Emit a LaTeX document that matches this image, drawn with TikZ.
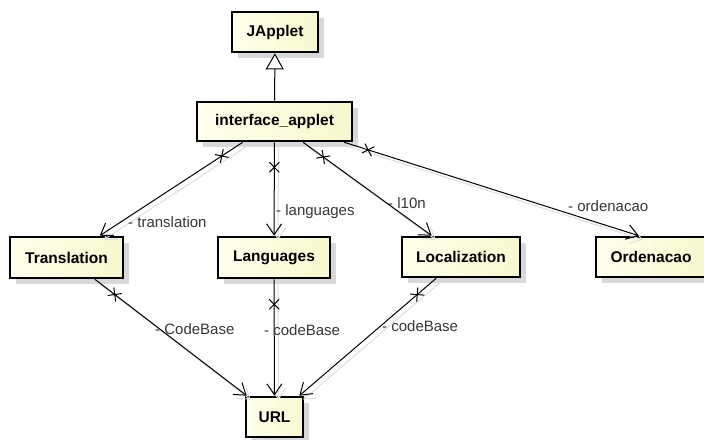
\documentclass[tikz,border=0pt]{standalone}
\usepackage{fontspec}
\setmainfont{Liberation Sans}
\usetikzlibrary{arrows.meta,shadows,decorations.markings}
\definecolor{boxlight}{RGB}{255,255,236}
\definecolor{boxdark}{RGB}{248,248,206}
\definecolor{shadowgray}{RGB}{216,216,216}
\definecolor{ghostgray}{RGB}{222,222,222}
\definecolor{labelgray}{RGB}{55,55,55}
\tikzset{
  cls/.style={draw=black, line width=2.6pt, left color=boxlight, right color=boxdark, inner sep=0pt,
    font=\fontsize{15.5}{18}\selectfont\bfseries,
    drop shadow={shadow xshift=6pt, shadow yshift=-6pt, fill=shadowgray, opacity=1}},
  lbl/.style={font=\fontsize{15}{18}\selectfont, text=labelgray, anchor=west, inner sep=0pt},
  tipV/.style={-{Straight Barb[length=11pt,width=15pt]}},
  assoc/.style={draw=black, line width=1pt, tipV, postaction={decorate},
    decoration={markings, mark=at position 25pt with {\draw[line width=1pt,-] (-5pt,-5pt)--(5pt,5pt) (-5pt,5pt)--(5pt,-5pt);}}},
  ghost/.style={draw=ghostgray, line width=1pt, tipV, transform canvas={shift={(4pt,-4pt)}}},
  inherit/.style={draw=black, line width=1pt, -{Triangle[open, length=16pt, width=18pt, fill=white]}}
}
\begin{document}
\begin{tikzpicture}[x=1pt,y=-1pt]
\useasboundingbox (0,0) rectangle (704,439);
\clip (0,0) rectangle (704,439);
\fill[white] (0,0) rectangle (704,439);
% classes
\node[cls, minimum width=86pt, minimum height=40pt] (japplet) at (275,32) {JApplet};
\node[cls, minimum width=155pt, minimum height=39pt] (iface) at (274.5,121.5) {interface\_applet};
\node[cls, minimum width=113pt, minimum height=41pt] (trans) at (66.5,257.5) {Translation};
\node[cls, minimum width=112pt, minimum height=41pt] (langs) at (274,257.5) {Languages};
\node[cls, minimum width=118pt, minimum height=40pt] (local) at (461,257) {Localization};
\node[cls, minimum width=110pt, minimum height=40pt] (orden) at (651,257) {Ordenacao};
\node[cls, minimum width=57pt, minimum height=40pt] (url) at (274.5,417) {URL};
% anchor points for the off-centre association
\coordinate (ordS) at ([xshift=-9pt]iface.south east);
\coordinate (ordE) at ([xshift=44pt]orden.north west);
% ghost shadows of connectors
\draw[ghost] (iface) -- (trans);
\draw[ghost] (iface) -- (langs);
\draw[ghost] (iface) -- (local);
\draw[ghost] (ordS) -- (ordE);
\draw[ghost] (trans) -- (url);
\draw[ghost] (langs) -- (url);
\draw[ghost] (local) -- (url);
% generalization
\draw[inherit] (iface) -- (japplet);
% associations
\draw[assoc] (iface) -- (trans);
\draw[assoc] (iface) -- (langs);
\draw[assoc] (iface) -- (local);
\draw[assoc] (ordS) -- (ordE);
\draw[assoc] (trans) -- (url);
\draw[assoc] (langs) -- (url);
\draw[assoc] (local) -- (url);
% labels
\node[lbl] (l1) at (128,222) {- translation};
\node[lbl] (l2) at (276,212) {- languages};
\node[lbl] (l3) at (388,203) {- l10n};
\node[lbl] (l4) at (568,206) {- ordenacao};
\node[lbl] (l5) at (155,329) {- CodeBase};
\node[lbl] (l6) at (264,330) {- codeBase};
\node[lbl] (l7) at (382,326) {- codeBase};
\end{tikzpicture}
\end{document}
